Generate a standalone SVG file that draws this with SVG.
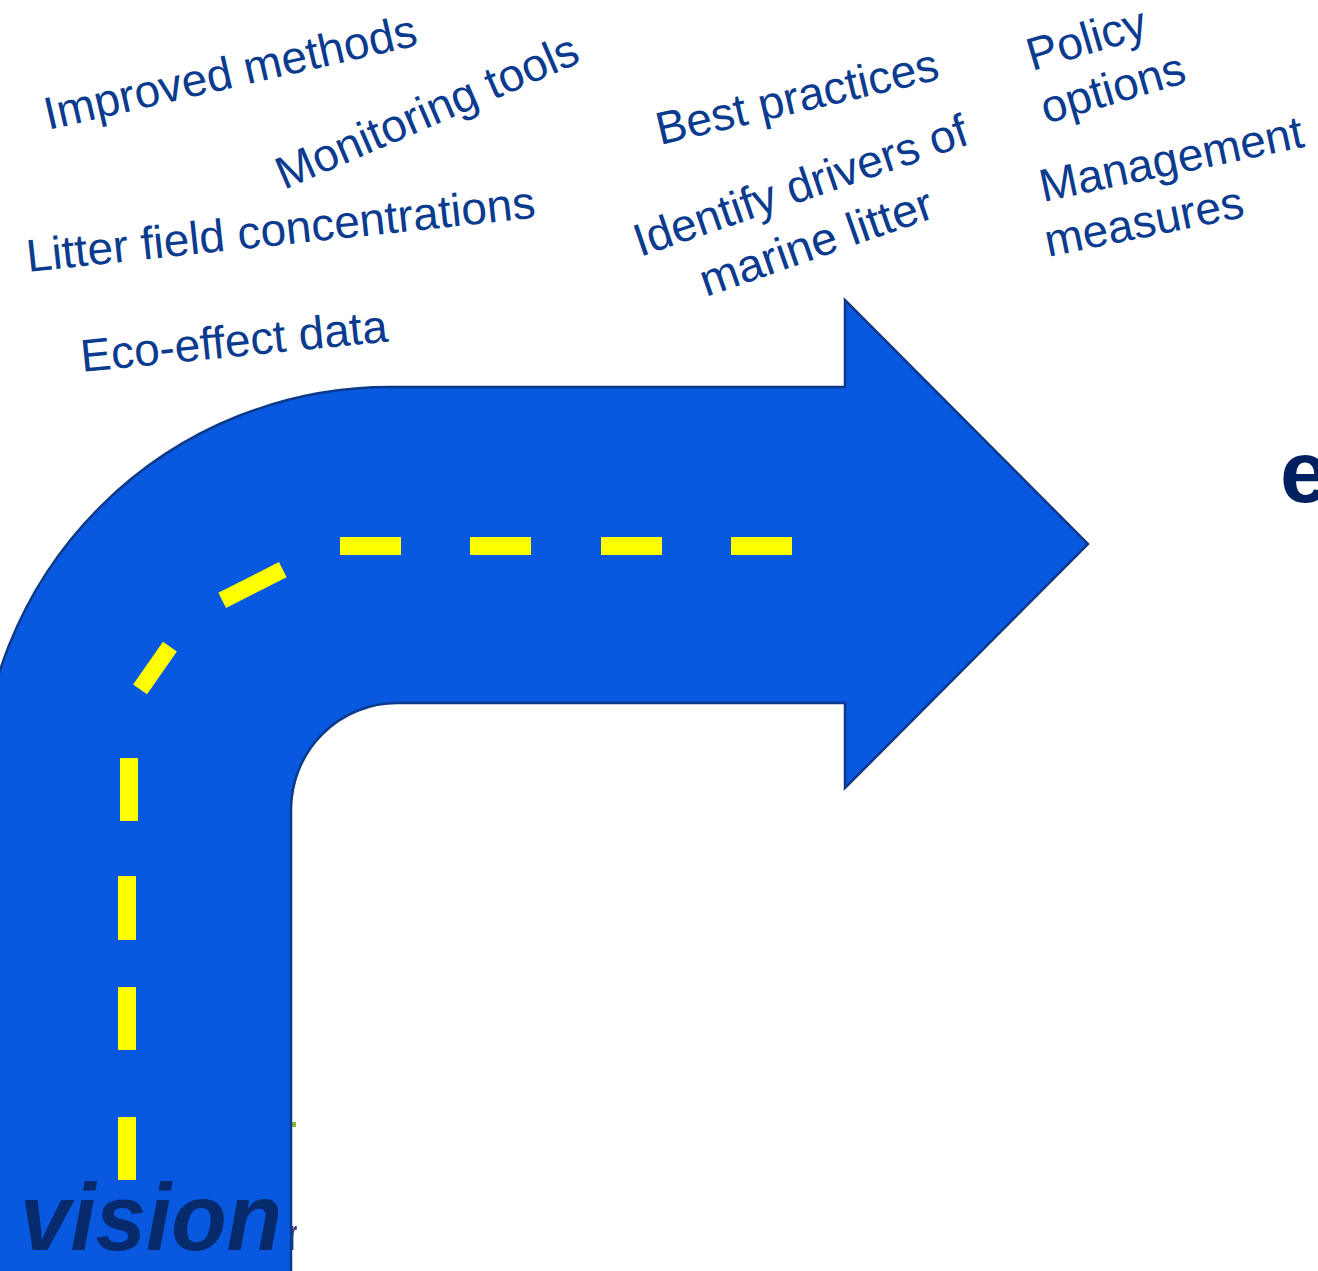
<svg xmlns="http://www.w3.org/2000/svg" width="1318" height="1271" viewBox="0 0 1318 1271">
  <style>
    .label { font-family: "Liberation Sans", Arial, sans-serif; font-size: 46px; fill: #0b3b8e; }
    .dash { fill: #ffff00; }
    .road { fill: #0958e0; stroke: #0b3a8a; stroke-width: 2.5; stroke-linejoin: miter; }
  </style>

  <rect width="1318" height="1271" fill="#ffffff"/>

  <!-- items partly tucked behind the road -->
  <g id="hidden-bits">
    <rect x="288" y="1122" width="8" height="5" fill="#8ab83a"/>
    <text x="290" y="1250" font-family="Liberation Sans, Arial, sans-serif" font-size="44" fill="#3b2f6e" textLength="7" lengthAdjust="spacingAndGlyphs">r</text>
  </g>

  <!-- the bent road arrow -->
  <g id="road-arrow">
    <path class="road" d="M -20 1280 L -20 797 A 410 410 0 0 1 390 387 L 845 387 L 845 300 L 1088 544 L 845 788 L 845 703 L 397 703 A 106 107 0 0 0 291 810 L 291 1280 Z"/>
  </g>

  <!-- centre line markings -->
  <g id="centre-line">
    <rect class="dash" x="340" y="537" width="61" height="18"/>
    <rect class="dash" x="470" y="537" width="61" height="18"/>
    <rect class="dash" x="601" y="537" width="61" height="18"/>
    <rect class="dash" x="731" y="537" width="61" height="18"/>
    <rect class="dash" x="-34" y="-8.5" width="68" height="17" transform="translate(252.5 585) rotate(-27)"/>
    <rect class="dash" x="-26" y="-8.5" width="52" height="17" transform="translate(155 668) rotate(-55)"/>
    <rect class="dash" x="120" y="758" width="18" height="63"/>
    <rect class="dash" x="118" y="876" width="18" height="64"/>
    <rect class="dash" x="118" y="987" width="18" height="63"/>
    <rect class="dash" x="118" y="1117" width="18" height="63"/>
  </g>

  <g id="vision">
    <text x="20" y="1250" font-family="Liberation Sans, Arial, sans-serif" font-size="94" font-weight="bold" font-style="italic" fill="#062a6c" textLength="262" lengthAdjust="spacingAndGlyphs">vision</text>
  </g>

  <g id="e-mark">
    <text x="1280" y="502" font-family="Liberation Sans, Arial, sans-serif" font-size="88" font-weight="bold" fill="#002060">e</text>
  </g>

  <!-- labels along the road -->
  <g id="improved-methods">
    <text class="label" transform="translate(48 130) rotate(-12.9)">Improved methods</text>
  </g>
  <g id="monitoring-tools">
    <text class="label" transform="translate(284 190) rotate(-23.3)">Monitoring tools</text>
  </g>
  <g id="litter-field">
    <text class="label" transform="translate(28 272) rotate(-6.1)">Litter field concentrations</text>
  </g>
  <g id="eco-effect">
    <text class="label" transform="translate(82 372) rotate(-5.7)">Eco-effect data</text>
  </g>
  <g id="best-practices">
    <text class="label" transform="translate(660 145) rotate(-13.2)">Best practices</text>
  </g>
  <g id="identify-drivers">
    <text class="label" transform="translate(640 257) rotate(-18.9)" textLength="350" lengthAdjust="spacingAndGlyphs">Identify drivers of</text>
    <text class="label" transform="translate(706 297) rotate(-19.2)" textLength="244" lengthAdjust="spacingAndGlyphs">marine litter</text>
  </g>
  <g id="policy-options">
    <text class="label" transform="translate(1032 71) rotate(-16.5)">Policy</text>
    <text class="label" transform="translate(1046 124) rotate(-16.4)">options</text>
  </g>
  <g id="management-measures">
    <text class="label" transform="translate(1043 202) rotate(-11.9)">Management</text>
    <text class="label" transform="translate(1048 257) rotate(-11.5)">measures</text>
  </g>
</svg>
